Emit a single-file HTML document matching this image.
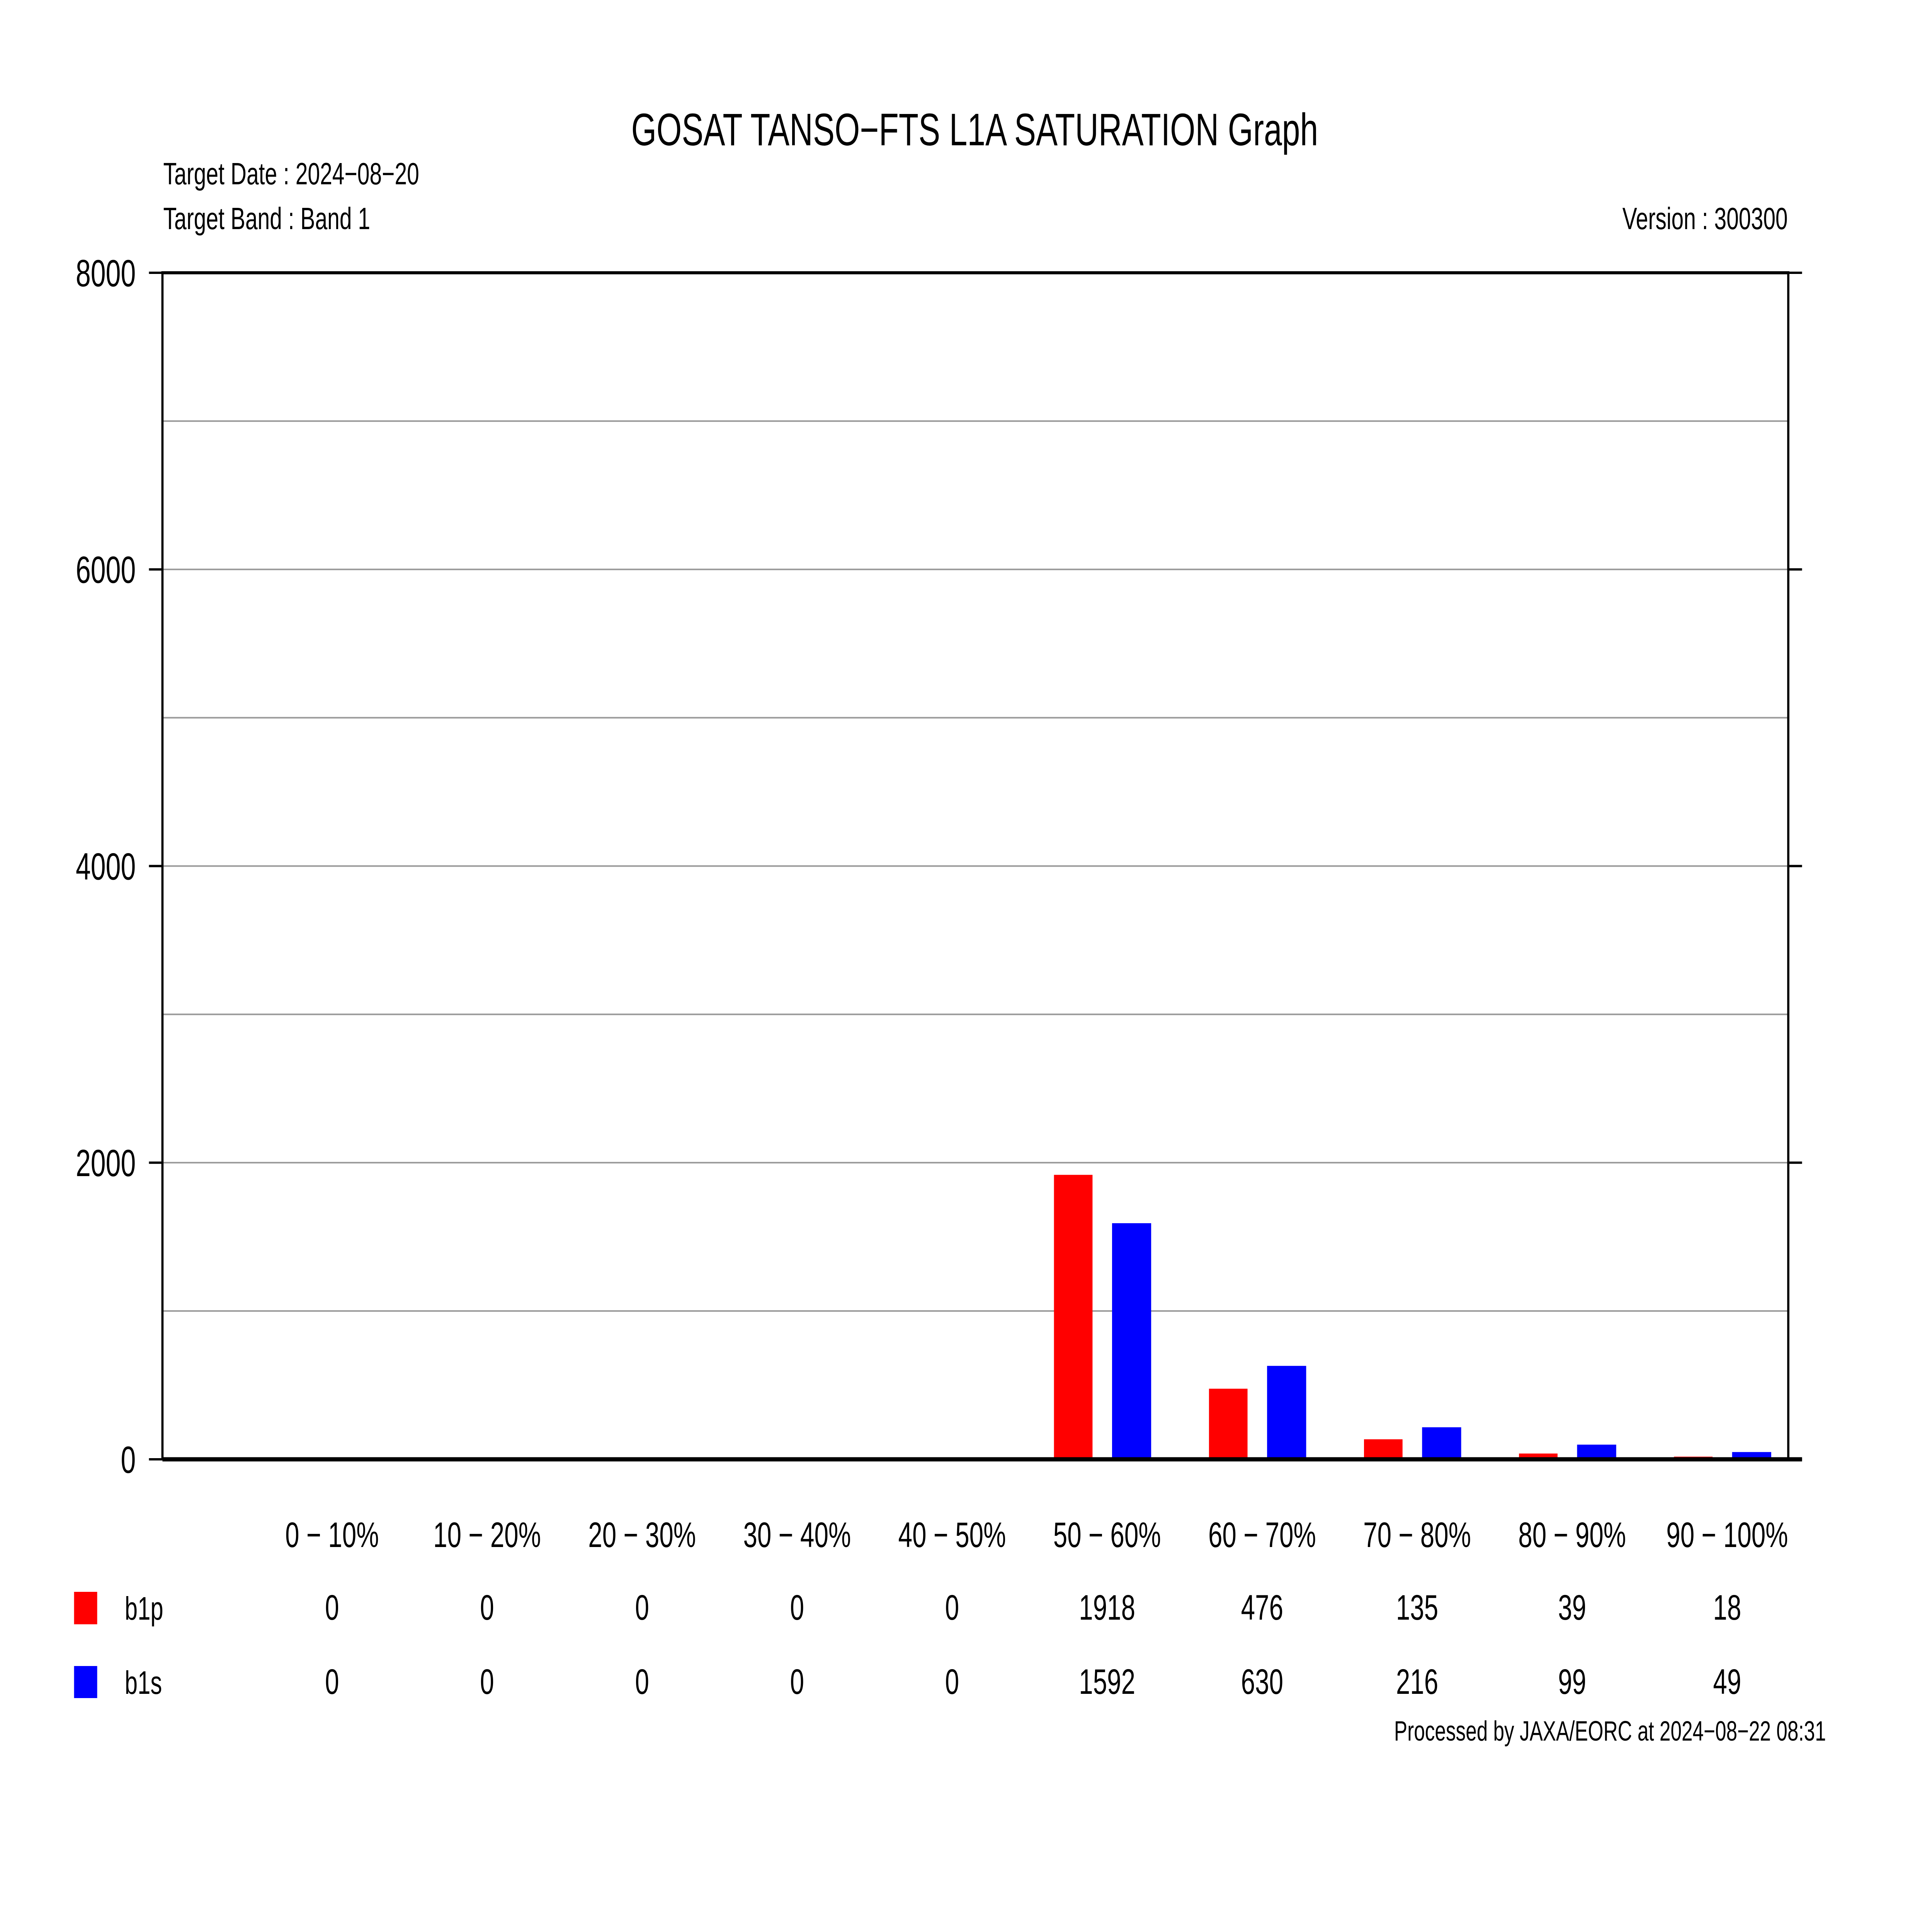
<!DOCTYPE html>
<html><head><meta charset="utf-8"><style>
html,body{margin:0;padding:0;background:#fff;width:100%;height:100%;overflow:hidden;}
svg{display:block;font-family:"Liberation Sans",sans-serif;width:100vw;height:100vh;}
</style></head><body>
<svg id="chart" viewBox="0 0 7017 4959" preserveAspectRatio="none" xmlns="http://www.w3.org/2000/svg">
<rect width="7017" height="4959" fill="#fff"/>
<text x="3540" y="376" font-size="118" text-anchor="middle">GOSAT TANSO−FTS L1A SATURATION Graph</text>
<text x="593" y="477" font-size="80">Target Date : 2024−08−20</text>
<text x="593" y="593" font-size="80">Target Band : Band 1</text>
<text x="6493" y="593" font-size="80" text-anchor="end">Version : 300300</text>
<text x="6632" y="4505" font-size="72" text-anchor="end">Processed by JAXA/EORC at 2024−08−22 08:31</text>
<g id="grid"></g><g id="bars"></g><g id="axes"></g><g id="table"></g>
</svg>
<script>
const categories = ["0 −  10%","10 −  20%","20 −  30%","30 −  40%","40 −  50%","50 −  60%","60 −  70%","70 −  80%","80 −  90%","90 − 100%"];
const b1p = [0,0,0,0,0,1918,476,135,39,18];
const b1s = [0,0,0,0,0,1592,630,216,99,49];
const yTicks = [0,2000,4000,6000,8000];
const yGrid = [1000,2000,3000,4000,5000,6000,7000];

const NS="http://www.w3.org/2000/svg";
const L=590,R=6495,T=706,B=3777,YMAX=8000;
const y=v=>B-(v/YMAX)*(B-T);
const xc=i=>1206+i*563;
function mk(tag,attrs,parent){const e=document.createElementNS(NS,tag);for(const k in attrs)e.setAttribute(k,attrs[k]);parent.appendChild(e);return e;}
const grid=document.getElementById('grid'),bars=document.getElementById('bars'),axes=document.getElementById('axes'),table=document.getElementById('table');

yGrid.forEach(v=>{
  const g=mk('line',{x1:L,x2:R,y1:y(v),y2:y(v),stroke:'#999',"stroke-width":4},grid);
  
  
});
categories.forEach((c,i)=>{
  const hp=Math.max(B-y(b1p[i]),3), hs=Math.max(B-y(b1s[i]),3);
  const r=mk('rect',{x:xc(i)-123-70,y:B-hp,width:140,height:hp,fill:'#f00'},bars);
  
  
  const s=mk('rect',{x:xc(i)+89-71,y:B-hs,width:142,height:hs,fill:'#00f'},bars);
  
  
  const t=mk('text',{x:xc(i),y:4004,"font-size":92,"text-anchor":"middle","xml:space":"preserve"},table);
  t.textContent=c;
  
  
  const p=mk('text',{x:xc(i),y:4192,"font-size":92,"text-anchor":"middle"},table);
  p.textContent=b1p[i];
  
  
  const q=mk('text',{x:xc(i),y:4384,"font-size":92,"text-anchor":"middle"},table);
  q.textContent=b1s[i];
  
  
});
const frame=mk('path',{d:`M${L},${B} L${L},${T} L${R},${T} L${R},${B}`,fill:'none',stroke:'#000',"stroke-width":8},axes);


const base=mk('line',{x1:L,x2:6545,y1:B,y2:B,stroke:'#000',"stroke-width":11},axes);


yTicks.forEach(v=>{
  const a=mk('line',{x1:541,x2:L,y1:y(v),y2:y(v),stroke:'#000',"stroke-width":6},axes);
  
  
  const b=mk('line',{x1:R,x2:6545,y1:y(v),y2:y(v),stroke:'#000',"stroke-width":6},axes);
  
  
  const t=mk('text',{x:493,y:y(v)+35,"font-size":98,"text-anchor":"end"},axes);
  t.textContent=v;
  
  
});
const lp=mk('rect',{x:269,y:4120,width:84,height:84,fill:'#f00'},table);


const ls=mk('rect',{x:269,y:4312,width:84,height:83,fill:'#00f'},table);


const lpt=mk('text',{x:453,y:4192,"font-size":84},table);
lpt.textContent='b1p';


const lst=mk('text',{x:453,y:4384,"font-size":84},table);
lst.textContent='b1s';


</script>
</body></html>
